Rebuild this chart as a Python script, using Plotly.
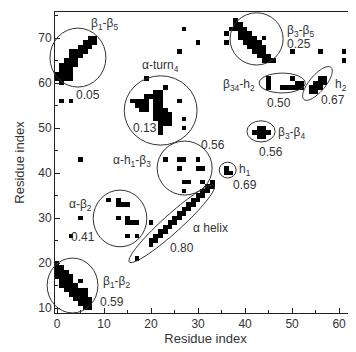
import math
import plotly.graph_objects as go

# ---------------- data: contact cells (residue i, residue j) ----------------
beta1_beta5 = [(7,70),(8,70),(6,69),(7,69),(8,69),(5,68),(6,68),(7,68),(3,67),(4,67),(5,67),(6,67),
               (3,66),(4,66),(5,66),(2,65),(3,65),(4,65),(1,64),(2,64),(3,64),(4,64),(1,63),(2,63),(3,63),
               (0,62),(1,62),(2,62),(3,62),(0,61),(1,61),(2,61),(3,61),(1,60)]
alpha_turn = [(21,58),(22,58),(19,57),(20,57),(21,57),(22,57),(16,56),(17,56),(18,56),(19,56),(21,56),(22,56),
              (17,55),(18,55),(19,55),(21,55),(22,55),(18,54),(19,54),(21,54),(22,54),(23,54),
              (21,53),(22,53),(23,53),(24,53),(21,52),(22,52),(23,52),(24,52),(22,51),(23,51),(24,51),(22,50),(22,49)]
beta3_beta5 = [(38,74),(38,73),(39,73),(37,72),(38,72),(39,72),(40,72),(39,71),(40,71),(41,71),
               (39,70),(40,70),(41,70),(42,70),(44,70),(40,69),(41,69),(42,69),(43,69),(41,68),(42,68),(43,68),(44,68),
               (42,67),(43,67),(44,67),(43,66),(44,66),(45,66),(44,65),(45,65),(46,65)]
beta34_h2 = [(45,61),(45,60),(45,59),(50,61),(51,60),(52,60),(48,59),(49,59),(50,59),(51,59),(52,59)]
h2_cells = [(56,61),(57,61),(55,60),(56,60),(57,60),(54,59),(55,59),(56,59),(54,58),(55,58)]
beta3_beta4 = [(43,50),(44,50),(42,49),(43,49),(44,49),(45,49),(43,48),(44,48)]
h1_cells = [(36,41),(36,40),(37,40)]
alpha_h1_beta3 = [(23,43),(26,43),(27,43),(30,43),(26,41),(30,41),(31,41),(27,38),(28,38),(31,38),(27,36)]
alpha_helix = [(17,21),(20,29),(20,24),(20,25),(21,25),(21,26),(22,26),(22,27),(23,27),(23,28),(24,28),(24,29),
               (25,29),(25,30),(26,30),(26,31),(27,31),(27,32),(28,32),(28,33),(29,33),(29,34),(30,34),(30,35),
               (31,35),(31,36),(32,36),(32,37),(33,37),(33,38)]
alpha_beta2 = [(11,34),(13,34),(13,33),(14,33),(15,33),(13,30),(15,30),(15,29),(16,29),(17,29),(15,26),(17,26),
               (5,30),(3,26)]
beta1_beta2 = [(0,20),(0,19),(1,19),(0,18),(1,18),(2,18),(0,17),(1,17),(2,17),(3,17),(1,16),(2,16),(3,16),(5,16),
               (1,15),(2,15),(3,15),(4,15),(2,14),(3,14),(4,14),(5,14),(6,14),(3,13),(4,13),(5,13),(6,13),
               (4,12),(5,12),(6,12),(7,12),(5,11),(6,11),(7,11),(6,10),(7,10)]
stray = [(1,56),(3,56),(5,43),(19,61),(23,59),(26,56),(27,52),(27,50),(27,72),(30,69),(26,67),
         (36,71),(36,69),(50,67),(56,67),(61,67),(61,65)]

# labels: (text, x, y)
labels = [("β<sub>1</sub>-β<sub>5</sub>", 10.0, 73.1), ("0.05", 6.6, 57.3),
          ("α-turn<sub>4</sub>", 22.1, 63.8), ("0.13", 18.7, 50.0),
          ("α-h<sub>1</sub>-β<sub>3</sub>", 16.0, 42.7), ("0.56", 33.2, 46.2),
          ("β<sub>3</sub>-β<sub>5</sub>", 51.7, 71.6), ("0.25", 51.5, 68.7),
          ("β<sub>34</sub>-h<sub>2</sub>", 38.7, 59.6), ("0.50", 47.2, 55.6),
          ("h<sub>2</sub>", 60.4, 59.6), ("0.67", 58.7, 56.2),
          ("β<sub>3</sub>-β<sub>4</sub>", 49.8, 48.9), ("0.56", 45.5, 44.7),
          ("h<sub>1</sub>", 40.0, 40.7), ("0.69", 40.0, 37.3),
          ("α helix", 32.6, 27.8), ("0.80", 26.6, 23.3),
          ("α-β<sub>2</sub>", 4.9, 32.9), ("0.41", 5.5, 25.8),
          ("β<sub>1</sub>-β<sub>2</sub>", 12.6, 15.8), ("0.59", 11.7, 11.3)]

# circles: (x0, x1, y0, y1) in data units
circles = [(-1.5, 10.4, 59.1, 72.2), (14.3, 29.8, 46.2, 61.6), (36.8, 48.1, 64.0, 75.6),
           (43.0, 52.8, 57.8, 62.2), (40.4, 46.4, 46.9, 51.6), (34.5, 38.1, 38.9, 42.4),
           (21.3, 33.0, 35.1, 47.1), (7.7, 19.1, 23.6, 36.2), (-2.1, 8.7, 8.9, 21.1)]
# rotated ellipses: (cx, cy, semi-major px, semi-minor px, angle deg)
ellipses = [(24.4, 28.7, 57, 9, 42), (55.4, 59.9, 21, 8, 50)]

xticks = [0, 10, 20, 30, 40, 50, 60]
yticks = [10, 20, 30, 40, 50, 60, 70]

# ---------------- figure ----------------
# (page body adds an 8px offset; margins compensate)
W, H = 348, 344
ML, MR, MT, MB = 47, 0, 4, 39
PW, PH = W - ML - MR, H - MT - MB
X_RANGE = [-0.43, 63.6]
Y_RANGE = [8.89, 75.78]

def to_px(x):
    return (x - X_RANGE[0]) / (X_RANGE[1] - X_RANGE[0])

def to_py(y):
    return (y - Y_RANGE[0]) / (Y_RANGE[1] - Y_RANGE[0])

cells = (beta1_beta5 + alpha_turn + beta3_beta5 + beta34_h2 + h2_cells + beta3_beta4 + h1_cells +
         alpha_h1_beta3 + alpha_helix + alpha_beta2 + beta1_beta2 + stray)
xs = list(range(0, 64))
ys = list(range(9, 77))
z = [[None for _ in xs] for _ in ys]
for cx, cy in cells:
    z[cy - ys[0]][cx - xs[0]] = 1

fig = go.Figure(go.Heatmap(x=xs, y=ys, z=z, colorscale=[[0, "black"], [1, "black"]],
                           showscale=False, hoverinfo="skip"))

shapes = []
for x0, x1, y0, y1 in circles:
    shapes.append(dict(type="circle", xref="paper", yref="paper",
                       x0=to_px(x0), x1=to_px(x1), y0=to_py(y0), y1=to_py(y1),
                       line=dict(color="#333", width=1)))
for cx, cy, a, b, ang in ellipses:
    th = math.radians(ang)
    pts = []
    for k in range(73):
        t = 2 * math.pi * k / 72
        dx = a * math.cos(t) * math.cos(th) - b * math.sin(t) * math.sin(th)
        dy = a * math.cos(t) * math.sin(th) + b * math.sin(t) * math.cos(th)
        pts.append((to_px(cx) + dx / PW, to_py(cy) + dy / PH))
    path = "M " + " L ".join(f"{p[0]:.5f},{p[1]:.5f}" for p in pts) + " Z"
    shapes.append(dict(type="path", xref="paper", yref="paper", path=path,
                       line=dict(color="#333", width=1)))

annotations = [dict(text=t, x=x, y=y, xref="x", yref="y", showarrow=False,
                    font=dict(size=12, color="#333")) for t, x, y in labels]

fig.update_layout(
    width=W, height=H, margin=dict(l=ML, r=MR, t=MT, b=MB),
    paper_bgcolor="white", plot_bgcolor="white",
    font=dict(family="Liberation Sans, Arial, sans-serif", size=12, color="#333"),
    shapes=shapes, annotations=annotations, showlegend=False,
    xaxis=dict(range=X_RANGE, tickvals=xticks, ticks="inside", ticklen=5, tickcolor="#222",
               showline=True, linecolor="#222", linewidth=1, mirror=True, automargin=False,
               showgrid=False, zeroline=False,
               minor=dict(ticks="inside", ticklen=3, dtick=5, tick0=0, tickcolor="#222"),
               title=dict(text="Residue index", font=dict(size=13), standoff=2),
               tickfont=dict(size=12)),
    yaxis=dict(range=Y_RANGE, tickvals=yticks, ticks="inside", ticklen=5, tickcolor="#222",
               showline=True, linecolor="#222", linewidth=1, automargin=False,
               showgrid=False, zeroline=False,
               minor=dict(ticks="inside", ticklen=3, dtick=5, tick0=0, tickcolor="#222"),
               title=dict(text="Residue index", font=dict(size=13), standoff=10),
               tickfont=dict(size=12)),
)
fig.write_html("out.html")
